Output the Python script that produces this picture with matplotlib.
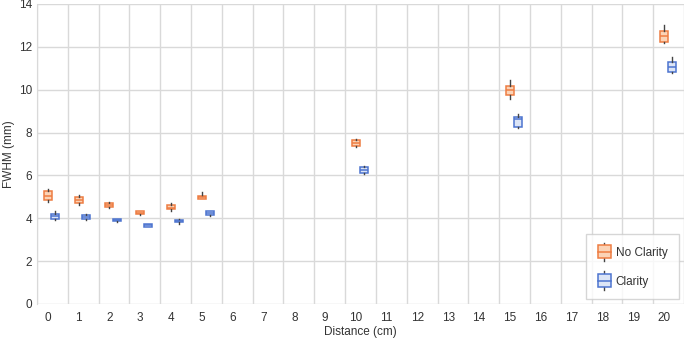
import matplotlib
matplotlib.use("Agg")
import matplotlib.pyplot as plt
from matplotlib.legend_handler import HandlerBase
from matplotlib.patches import Rectangle
from matplotlib.lines import Line2D

plt.rcParams['font.family'] = ['Liberation Sans', 'DejaVu Sans']

distances = [0, 1, 2, 3, 4, 5, 10, 15, 20]
tick_labels = [str(i) for i in range(21)]

# No Clarity: whisker low, q1, median, q3, whisker high
nc_low = [4.76, 4.63, 4.50, 4.16, 4.34, 4.88, 7.35, 9.58, 12.18]
nc_q1  = [4.87, 4.73, 4.54, 4.18, 4.43, 4.91, 7.39, 9.77, 12.24]
nc_med = [5.05, 4.87, 4.62, 4.26, 4.50, 4.98, 7.52, 10.00, 12.52]
nc_q3  = [5.28, 4.99, 4.70, 4.34, 4.62, 5.05, 7.65, 10.19, 12.72]
nc_high = [5.35, 5.09, 4.75, 4.36, 4.70, 5.24, 7.70, 10.44, 13.04]

# Clarity
c_low = [3.93, 3.90, 3.85, 3.60, 3.75, 4.10, 6.08, 8.20, 10.77]
c_q1  = [3.98, 3.98, 3.87, 3.61, 3.83, 4.14, 6.13, 8.27, 10.81]
c_med = [4.10, 4.05, 3.92, 3.67, 3.88, 4.24, 6.26, 8.65, 11.05]
c_q3  = [4.20, 4.15, 3.97, 3.73, 3.94, 4.34, 6.38, 8.73, 11.28]
c_high = [4.34, 4.20, 3.99, 3.74, 3.98, 4.36, 6.44, 8.87, 11.51]

NC_EDGE = '#EE7D43'
NC_FACE = '#FBD3B6'
C_EDGE = '#4D74CF'
C_FACE = '#DCE5F6'
WHISK = '#444444'

fig = plt.figure(figsize=(6.85, 3.39), dpi=100)
ax = fig.add_axes([37/685, 1-304/339, (684-37)/685, 300/339])

def stats(lo, q1, med, q3, hi):
    return [dict(whislo=a, q1=b, med=c, q3=d, whishi=e, fliers=[])
            for a, b, c, d, e in zip(lo, q1, med, q3, hi)]

def draw(st, offset, edge, face):
    pos = [d + offset for d in distances]
    ax.bxp(st, positions=pos, widths=0.26, patch_artist=True, showcaps=False,
           boxprops=dict(facecolor=face, edgecolor=edge, linewidth=1.1),
           medianprops=dict(color=edge, linewidth=1.1),
           whiskerprops=dict(color=WHISK, linewidth=1.0),
           manage_ticks=False, zorder=3)

draw(stats(nc_low, nc_q1, nc_med, nc_q3, nc_high), 0.0, NC_EDGE, NC_FACE)
draw(stats(c_low, c_q1, c_med, c_q3, c_high), 0.25, C_EDGE, C_FACE)

ax.set_xlim(-0.35, 20.65)
ax.set_ylim(0, 14)
ax.set_xticks(range(21))
ax.set_xticklabels(tick_labels)
ax.set_yticks(range(0, 15, 2))
ax.set_xticks([i - 0.35 for i in range(22)], minor=True)
ax.grid(False)
ax.grid(True, which='minor', axis='x', color='#d9d9d9', linewidth=1.0)
ax.grid(True, which='major', axis='y', color='#d9d9d9', linewidth=1.0)
ax.set_axisbelow(True)
ax.tick_params(which='both', length=0, labelsize=8.5, colors='#333333')
ax.tick_params(axis='x', pad=6)
for s in ['top', 'right', 'bottom']:
    ax.spines[s].set_visible(False)
ax.spines['left'].set_color('#d9d9d9')
ax.set_xlabel('Distance (cm)', fontsize=8.5, color='#333333', labelpad=1)
ax.set_ylabel('FWHM (mm)', fontsize=8.5, color='#333333', labelpad=3)

class BoxHandler(HandlerBase):
    def __init__(self, edge, face):
        super().__init__()
        self.edge, self.face = edge, face
    def create_artists(self, legend, orig_handle, xdescent, ydescent, width, height, fontsize, trans):
        x0 = -xdescent
        y0 = -ydescent
        cx = x0 + width / 2
        cy = y0 + height / 2
        ext = height * 0.2
        w1 = Line2D([cx, cx], [y0 - ext, y0 + height + ext], color=WHISK, lw=1.0, transform=trans)
        r = Rectangle((x0, y0), width, height, facecolor=self.face, edgecolor=self.edge, lw=1.1, transform=trans)
        m = Line2D([x0, x0 + width], [cy, cy], color=self.edge, lw=1.1, transform=trans)
        return [w1, r, m]

h1 = Rectangle((0, 0), 1, 1)
h2 = Rectangle((0, 0), 1, 1)
leg = ax.legend([h1, h2], ['No Clarity', 'Clarity'],
                handler_map={h1: BoxHandler(NC_EDGE, NC_FACE), h2: BoxHandler(C_EDGE, C_FACE)},
                loc='lower right', bbox_to_anchor=(0.992, 0.017), borderaxespad=0, fontsize=8.5,
                frameon=True, fancybox=False, edgecolor='#cccccc', handlelength=1.15,
                handleheight=1.35, labelspacing=1.3, borderpad=0.95, handletextpad=0.4)
leg.get_frame().set_linewidth(1.0)
for t in leg.get_texts():
    t.set_color('#333333')

fig.savefig('out.png', dpi=100)
